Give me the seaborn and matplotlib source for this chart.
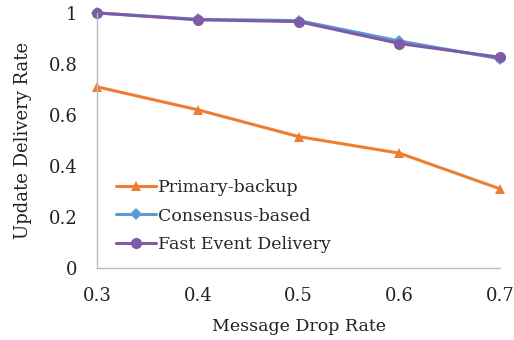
import matplotlib
matplotlib.use("Agg")
import matplotlib.pyplot as plt
import seaborn as sns
import pandas as pd

drop_rates = [0.3, 0.4, 0.5, 0.6, 0.7]
primary_backup = [0.71, 0.62, 0.515, 0.45, 0.31]
consensus_based = [1.0, 0.975, 0.97, 0.89, 0.82]
fast_event = [1.0, 0.973, 0.966, 0.88, 0.826]
series_names = ["Primary-backup", "Consensus-based", "Fast Event Delivery"]

rows = []
for name, vals in zip(series_names, [primary_backup, consensus_based, fast_event]):
    for x, y in zip(drop_rates, vals):
        rows.append({"rate": x, "value": y, "series": name})
df = pd.DataFrame(rows)

sns.set_theme(style="white")
plt.rcParams["font.family"] = ["DejaVu Serif"]

fig = plt.figure(figsize=(5.14, 3.40), dpi=100)
ax = fig.add_axes([0.189, 0.212, 0.784, 0.75])

palette = {"Primary-backup": "#ED7D31", "Consensus-based": "#5B9BD5",
           "Fast Event Delivery": "#7F5BA6"}
markers = {"Primary-backup": "^", "Consensus-based": "D", "Fast Event Delivery": "o"}
sizes = {"Primary-backup": 7, "Consensus-based": 6, "Fast Event Delivery": 8}

for name in series_names:
    sub = df[df["series"] == name]
    sns.lineplot(data=sub, x="rate", y="value", ax=ax, color=palette[name],
                 marker=markers[name], markersize=sizes[name], linewidth=2.2,
                 markeredgewidth=0, label=name, clip_on=False)

ax.set_xlim(0.3, 0.7)
ax.set_ylim(0, 1)
ax.set_xticks(drop_rates)
ax.set_xticklabels(["0.3", "0.4", "0.5", "0.6", "0.7"])
ax.set_yticks([0, 0.2, 0.4, 0.6, 0.8, 1.0])
ax.set_yticklabels(["0", "0.2", "0.4", "0.6", "0.8", "1"])
ax.tick_params(axis="both", labelsize=13, length=4, width=0.8,
               direction="out", colors="#bbbbbb", labelcolor="#222222")
ax.tick_params(axis="y", pad=10)
ax.tick_params(axis="x", direction="in", pad=14)
for s in ["top", "right"]:
    ax.spines[s].set_visible(False)
for s in ["left", "bottom"]:
    ax.spines[s].set_color("#bbbbbb")
    ax.spines[s].set_linewidth(1.0)

ax.set_xlabel("Message Drop Rate", fontsize=12.5, color="#222222", labelpad=9)
ax.set_ylabel("Update Delivery Rate", fontsize=13, color="#222222", labelpad=12)

ax.legend(loc="lower left", bbox_to_anchor=(0.03, 0.03), frameon=False,
          fontsize=12.5, handlelength=2.3, handletextpad=0.1, labelspacing=0.68,
          borderaxespad=0)

fig.savefig("out.png", dpi=100)
